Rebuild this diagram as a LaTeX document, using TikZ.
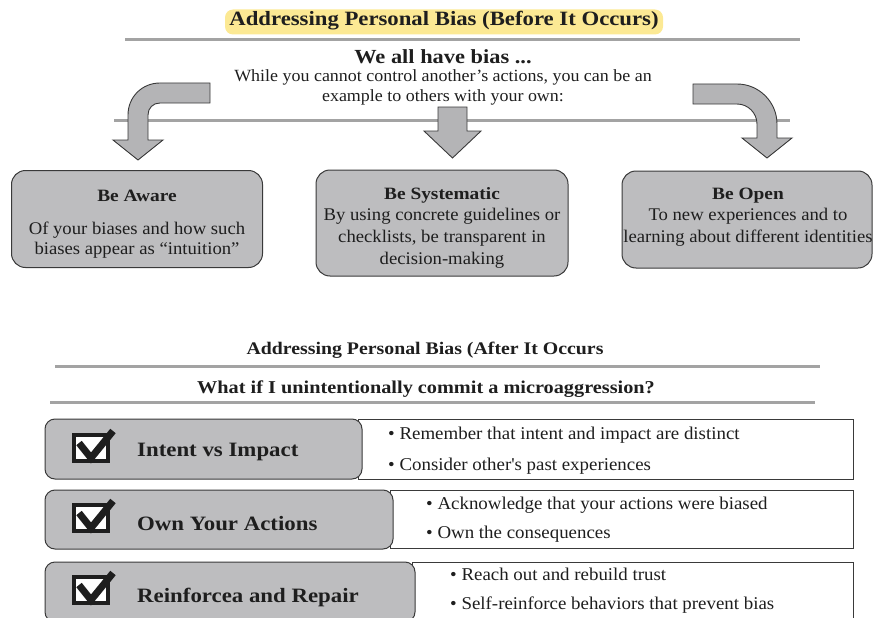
\documentclass[tikz,border=0pt]{standalone}
\usepackage{fontspec}
\setmainfont{Liberation Serif}[FakeStretch=1.05, BoldFeatures={FakeStretch=1.12}]
\definecolor{hl}{HTML}{FCE994}
\definecolor{rule}{HTML}{A3A3A3}
\definecolor{boxg}{HTML}{BDBDBF}
\definecolor{arrg}{HTML}{B4B4B6}
\definecolor{edge}{HTML}{3A3A3A}
\definecolor{ink}{HTML}{1E1E1E}
\tikzset{
  sep/.style={draw=rule, line width=3pt},
  bigarrow/.style={fill=arrg, draw=edge, line width=0.9pt, line join=miter},
  topbox/.style={draw=edge, fill=boxg, line width=1pt, rounded corners=14pt},
  rowbox/.style={draw=edge, fill=boxg, line width=1pt, rounded corners=10pt},
  listbox/.style={draw=edge, fill=white, line width=0.8pt},
  txt/.style={text=ink, inner sep=0pt},
  bul/.style={txt, anchor=west, font=\fontsize{18}{20}\selectfont},
  lab/.style={txt, anchor=west, font=\bfseries\fontsize{20.4}{22}\selectfont},
  pics/chk/.style={code={
    \fill[white] (-17,-13) rectangle (17,13);
    \draw[ink, line width=3.5pt] (-17,-13) rectangle (17,13);
    \draw[ink, line width=7pt, line cap=butt, line join=miter] (-12,-5) -- (0,10) -- (22,-17);
  }}
}
\begin{document}
\begin{tikzpicture}[x=1pt,y=-1pt]
\useasboundingbox (0,0) rectangle (873,618);
\clip (0,0) rectangle (873,618);

% ---- top section ----
\node[fill=hl, rounded corners=8pt, minimum width=438pt, minimum height=25pt, inner sep=0pt] (titlebg) at (444,22) {};
\node[txt, font=\bfseries\fontsize{20.3}{22}\selectfont] (title) at (444,21) {Addressing Personal Bias (Before It Occurs)};
\coordinate (r1a) at (125,40); \coordinate (r1b) at (800,40);
\draw[sep] (r1a) -- (r1b);
\node[txt, font=\bfseries\fontsize{20}{22}\selectfont] (bias) at (443,57) {We all have bias ...};
\node[txt, align=center, font=\fontsize{17.1}{20}\selectfont] (intro) at (443,87) {While you cannot control another’s actions, you can be an\\example to others with your own:};
\coordinate (r2a) at (114,120); \coordinate (r2b) at (790,120);
\draw[sep] (r2a) -- (r2b);

% arrows
\draw[bigarrow] (210,83) -- (160,83) .. controls (142,83) and (128,97) .. (128,115) -- (128,140) -- (113,140) -- (138,160) -- (163,140) -- (148,140) -- (148,115) .. controls (148,108) and (153,103) .. (160,103) -- (210,103) -- cycle;
\draw[bigarrow] (438,107) -- (467,107) -- (467,131) -- (481,131) -- (452.5,158) -- (424,131) -- (438,131) -- cycle;
\draw[bigarrow] (693,84) -- (737,84) .. controls (759,84) and (777,102) .. (777,124) -- (777,138) -- (792,138) -- (767,158) -- (742,138) -- (757,138) -- (757,124) .. controls (757,113) and (748,104) .. (737,104) -- (693,104) -- cycle;

% three boxes
\node[topbox, minimum width=251pt, minimum height=97pt] (aware) at (137,219) {};
\node[txt, font=\bfseries\fontsize{17.3}{20}\selectfont] (awaret) at (137,196) {Be Aware};
\node[txt, align=center, font=\fontsize{17.8}{20}\selectfont] (awareb) at (137,240) {Of your biases and how such\\biases appear as “intuition”};

\node[topbox, minimum width=252pt, minimum height=106pt] (syst) at (442,223) {};
\node[txt, font=\bfseries\fontsize{17.3}{20}\selectfont] (systt) at (442,195) {Be Systematic};
\node[txt, align=center, font=\fontsize{17.8}{22}\selectfont] (systb) at (442,238) {By using concrete guidelines or\\checklists, be transparent in\\decision-making};

\node[topbox, minimum width=250pt, minimum height=97pt] (open) at (747,219.5) {};
\node[txt, font=\bfseries\fontsize{17.3}{20}\selectfont] (opent) at (748,196) {Be Open};
\node[txt, align=center, font=\fontsize{17.8}{22}\selectfont] (openb) at (748,227) {To new experiences and to\\learning about different identities};

% ---- bottom section ----
\node[txt, font=\bfseries\fontsize{17.7}{20}\selectfont] (title2) at (425,350) {Addressing Personal Bias (After It Occurs};
\coordinate (r3a) at (55,366); \coordinate (r3b) at (820,366);
\draw[sep] (r3a) -- (r3b);
\node[txt, font=\bfseries\fontsize{18.1}{20}\selectfont] (q) at (426,389) {What if I unintentionally commit a microaggression?};
\coordinate (r4a) at (50,402); \coordinate (r4b) at (815,402);
\draw[sep] (r4a) -- (r4b);

% row 1
\node[listbox, minimum width=495pt, minimum height=60pt, inner sep=0pt] (l1) at (606,449) {};
\node[rowbox, minimum width=317pt, minimum height=60pt, inner sep=0pt] (g1) at (203.5,449) {};
\pic at (91,448) {chk};
\node[lab] (g1t) at (137,452) {Intent vs Impact};
\node[bul] (b11) at (388,435) {• Remember that intent and impact are distinct};
\node[bul] (b12) at (388,466) {• Consider other\textquotesingle s past experiences};

% row 2
\node[listbox, minimum width=463pt, minimum height=58pt, inner sep=0pt] (l2) at (621.5,519) {};
\node[rowbox, minimum width=348pt, minimum height=59pt, inner sep=0pt] (g2) at (219,519.5) {};
\pic at (91,518) {chk};
\node[lab] (g2t) at (137,524) {Own Your Actions};
\node[bul] (b21) at (426,505) {• Acknowledge that your actions were biased};
\node[bul] (b22) at (426,534) {• Own the consequences};

% row 3
\node[listbox, minimum width=441pt, minimum height=60pt, inner sep=0pt] (l3) at (632.5,592) {};
\node[rowbox, minimum width=370pt, minimum height=60pt, inner sep=0pt] (g3) at (230,592) {};
\pic at (91,590) {chk};
\node[lab] (g3t) at (137,597) {Reinforcea and Repair};
\node[bul] (b31) at (450,574) {• Reach out and rebuild trust};
\node[bul] (b32) at (450,605) {• Self-reinforce behaviors that prevent bias};
\end{tikzpicture}
\end{document}
